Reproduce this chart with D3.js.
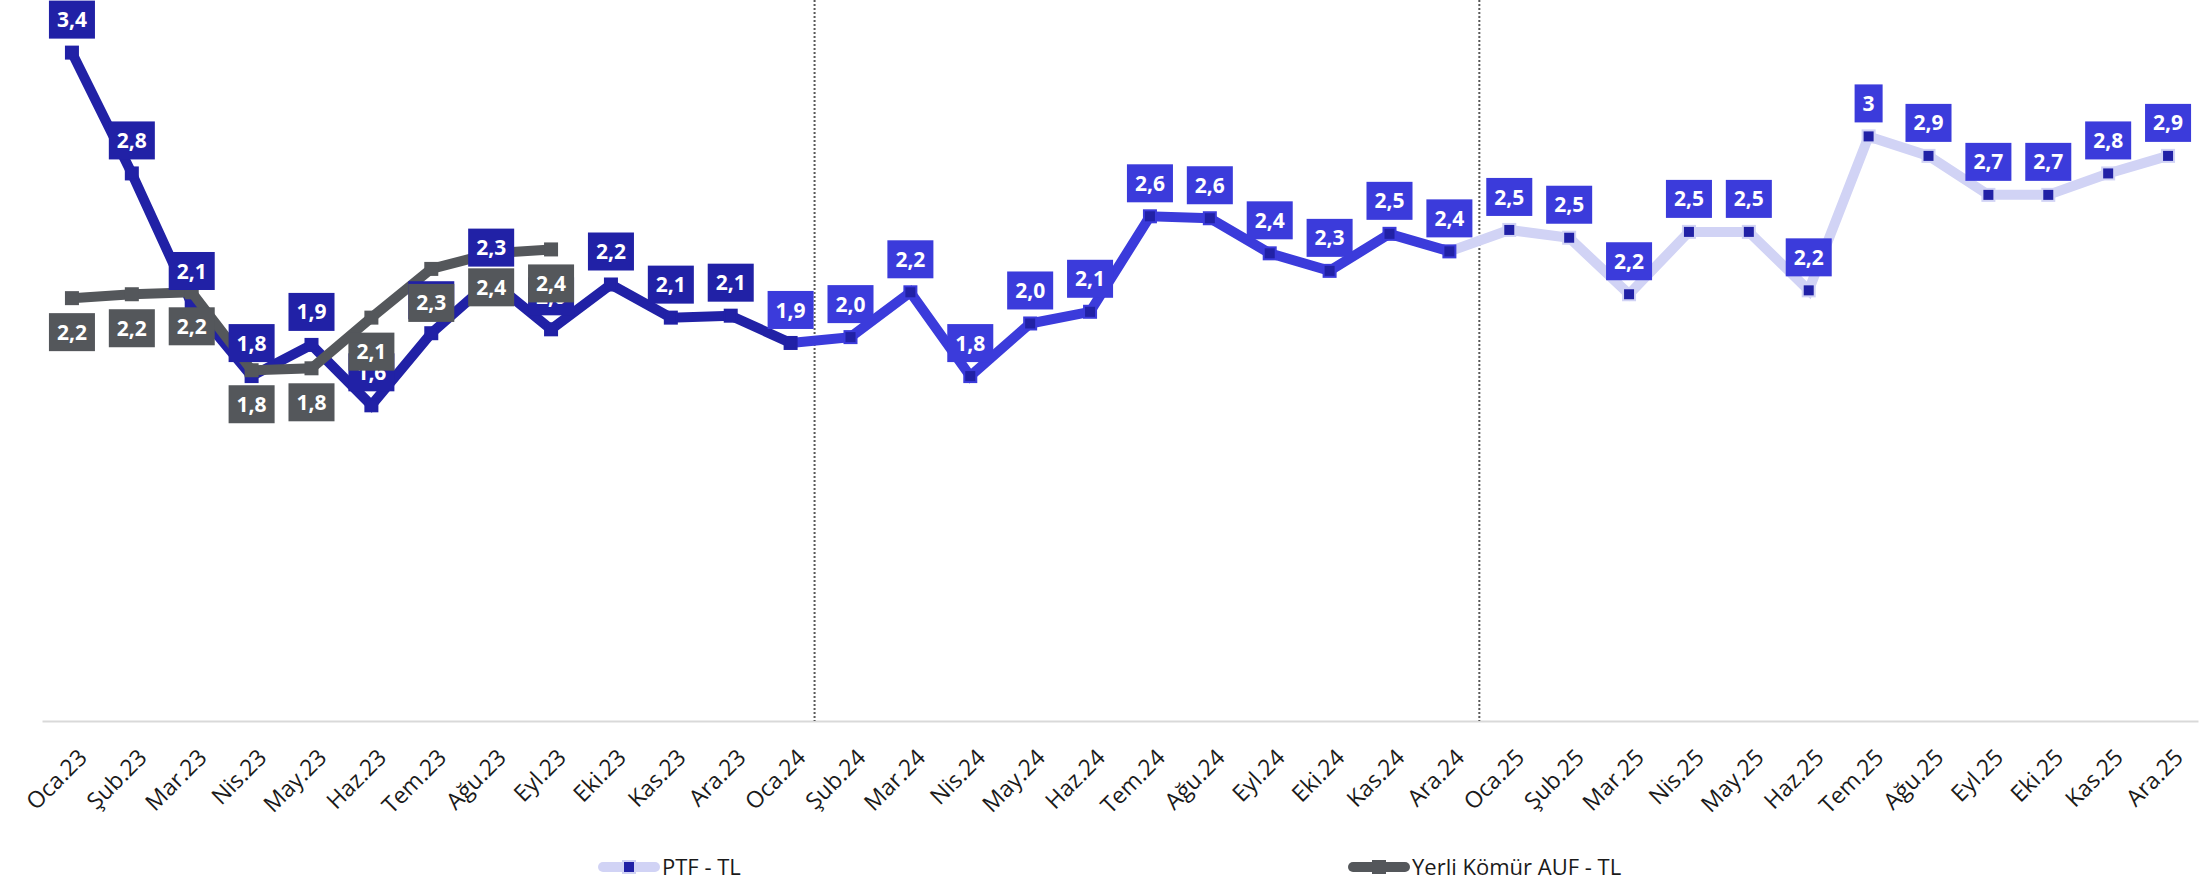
<!DOCTYPE html>
<html lang="tr">
  <head>
    <meta charset="UTF-8" />
    <title>PTF - Yerli Kömür AUF</title>
    <style>
      body { margin: 0; background: #fff; }
      svg { display: block; font-family: "Open Sans", "Noto Sans", sans-serif; }
    </style>
  </head>
  <body>
    <svg id="chart"></svg>

    <script src="https://d3js.org/d3.v7.min.js"></script>
    <script>
      // data
      const months = [
        "Oca.23", "Şub.23", "Mar.23", "Nis.23", "May.23", "Haz.23",
        "Tem.23", "Ağu.23", "Eyl.23", "Eki.23", "Kas.23", "Ara.23",
        "Oca.24", "Şub.24", "Mar.24", "Nis.24", "May.24", "Haz.24",
        "Tem.24", "Ağu.24", "Eyl.24", "Eki.24", "Kas.24", "Ara.24",
        "Oca.25", "Şub.25", "Mar.25", "Nis.25", "May.25", "Haz.25",
        "Tem.25", "Ağu.25", "Eyl.25", "Eki.25", "Kas.25", "Ara.25"
      ];
      const ptfValues = [
        3.43, 2.81, 2.14, 1.77, 1.93, 1.62, 1.99, 2.26, 2.01, 2.24, 2.07, 2.08,
        1.94, 1.97, 2.2, 1.77, 2.04, 2.1, 2.59, 2.58, 2.4, 2.31, 2.5, 2.41,
        2.52, 2.48, 2.19, 2.51, 2.51, 2.21, 3, 2.9, 2.7, 2.7, 2.81, 2.9
      ];
      const komurValues = [2.17, 2.19, 2.2, 1.8, 1.81, 2.07, 2.32, 2.4, 2.42];
      // PTF line pieces (first and last month index of each piece)
      const spanStart = [0, 12, 23];
      const spanEnd = [12, 23, 35];
      // dotted separators, in month-index units
      const dividers = [12.4, 23.5];
      const legendNames = ["PTF - TL", "Yerli Kömür AUF - TL"];

      const W = 2206, H = 883;
      const darkBlue = "#2121a6";
      const midBlue = "#3b3bdb";
      const paleBlue = "#d1d3f5";
      const grey = "#54575b";
      const spanColors = [darkBlue, midBlue, paleBlue];

      const svg = d3.select("#chart").attr("width", W).attr("height", H);

      const x = d3.scaleLinear().domain([-0.5, months.length - 0.5]).range([42, 2198]);
      const y = d3.scaleLinear().domain([0, 3.7]).range([721, 0]);

      // x axis
      const xAxis = d3.axisBottom(x)
        .tickValues(d3.range(months.length))
        .tickFormat((i) => months[i])
        .tickSize(0)
        .tickSizeOuter(0);
      const gx = svg.append("g").attr("transform", `translate(0,${y(0)})`).call(xAxis);
      gx.select(".domain").attr("stroke", "#d9d9d9").attr("stroke-width", 2);
      gx.selectAll("text")
        .attr("x", 0)
        .attr("y", 0)
        .attr("dy", 0)
        .attr("text-anchor", "end")
        .attr("transform", "translate(16,38) rotate(-45)")
        .attr("font-size", 23)
        .attr("font-family", '"Open Sans", sans-serif')
        .attr("fill", "#1a1a1a");

      // dotted separators
      svg.selectAll(".divider")
        .data(dividers)
        .join("line")
        .attr("class", "divider")
        .attr("x1", (d) => x(d))
        .attr("x2", (d) => x(d))
        .attr("y1", 0)
        .attr("y2", y(0))
        .attr("stroke", "#595959")
        .attr("stroke-width", 2)
        .attr("stroke-dasharray", "2,2");

      const line = d3.line().x((d) => x(d.i)).y((d) => y(d.v));
      const ptfPts = ptfValues.map((v, i) => ({ i, v }));
      const komurPts = komurValues.map((v, i) => ({ i, v }));

      // PTF line pieces
      spanStart.forEach((s, k) => {
        svg.append("path")
          .datum(ptfPts.slice(s, spanEnd[k] + 1))
          .attr("fill", "none")
          .attr("stroke", spanColors[k])
          .attr("stroke-width", 10)
          .attr("stroke-linejoin", "miter")
          .attr("d", line);
      });

      const pieceOf = (i) => (i <= 12 ? 0 : i <= 23 ? 1 : 2);

      // PTF markers
      svg.selectAll(".ptfMark")
        .data(ptfPts)
        .join("rect")
        .attr("class", "ptfMark")
        .attr("x", (d) => x(d.i) - 6)
        .attr("y", (d) => y(d.v) - 6)
        .attr("width", 12)
        .attr("height", 12)
        .attr("fill", darkBlue)
        .attr("stroke", (d) => spanColors[pieceOf(d.i)])
        .attr("stroke-width", 2);

      // Yerli Kömür line + markers
      svg.append("path")
        .datum(komurPts)
        .attr("fill", "none")
        .attr("stroke", grey)
        .attr("stroke-width", 10)
        .attr("d", line);
      svg.selectAll(".komurMark")
        .data(komurPts)
        .join("rect")
        .attr("class", "komurMark")
        .attr("x", (d) => x(d.i) - 7)
        .attr("y", (d) => y(d.v) - 7)
        .attr("width", 14)
        .attr("height", 14)
        .attr("fill", grey);

      const fmt = (v) => (Number.isInteger(v) ? String(v) : v.toFixed(1).replace(".", ","));

      function addLabels(pts, offset, colorOf) {
        const g = svg.append("g");
        pts.forEach((d) => {
          const cx = x(d.i), cy = y(d.v) + offset;
          const box = g.append("rect").attr("fill", colorOf(d.i));
          const t = g.append("text")
            .attr("x", cx)
            .attr("y", cy)
            .attr("dy", "0.36em")
            .attr("text-anchor", "middle")
            .attr("font-size", 21)
            .attr("font-weight", "bold")
            .attr("fill", "#fff")
            .text(fmt(d.v));
          const w = t.node().getComputedTextLength() + 16;
          box.attr("x", cx - w / 2).attr("y", cy - 19).attr("width", w).attr("height", 38);
        });
      }

      addLabels(ptfPts, -33, (i) => (i < 12 ? darkBlue : midBlue));
      addLabels(komurPts, 34, () => grey);

      // legend
      const legend = svg.append("g").attr("transform", "translate(0,867)");
      const l1 = legend.append("g").attr("transform", "translate(603,0)");
      l1.append("line").attr("x1", 0).attr("x2", 52).attr("stroke", paleBlue)
        .attr("stroke-width", 10).attr("stroke-linecap", "round");
      l1.append("rect").attr("x", 20).attr("y", -6).attr("width", 12).attr("height", 12)
        .attr("fill", darkBlue).attr("stroke", paleBlue).attr("stroke-width", 2);
      l1.append("text").attr("x", 59).attr("dy", "0.35em").attr("font-size", 22)
        .attr("fill", "#1a1a1a").text(legendNames[0]);

      const l2 = legend.append("g").attr("transform", "translate(1353,0)");
      l2.append("line").attr("x1", 0).attr("x2", 52).attr("stroke", grey)
        .attr("stroke-width", 10).attr("stroke-linecap", "round");
      l2.append("rect").attr("x", 19).attr("y", -7).attr("width", 14).attr("height", 14)
        .attr("fill", grey);
      l2.append("text").attr("x", 59).attr("dy", "0.35em").attr("font-size", 22)
        .attr("fill", "#1a1a1a").text(legendNames[1]);
    </script>
  </body>
</html>
